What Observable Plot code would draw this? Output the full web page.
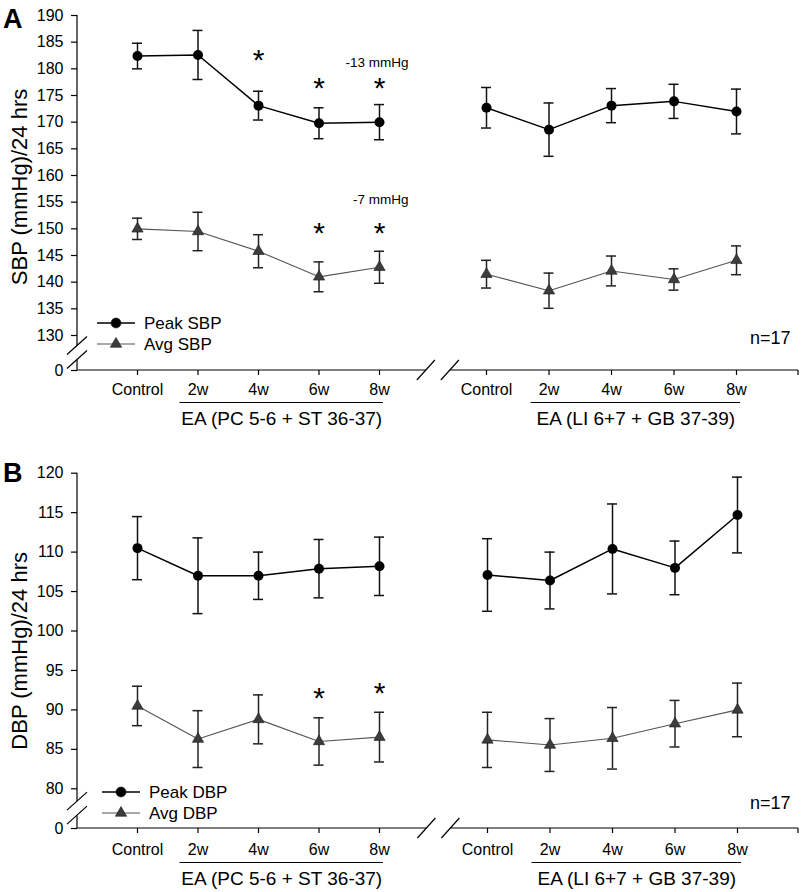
<!DOCTYPE html>
<html><head><meta charset="utf-8">
<script src="https://cdn.jsdelivr.net/npm/d3@7"></script>
<script src="https://cdn.jsdelivr.net/npm/@observablehq/plot@0.6"></script>
<style>
body{margin:0;background:#fff;}
#chart svg{display:block;}
</style></head><body><div id="chart"></div>
<script>
// ---------- data ----------
const timepoints = ["Control", "2w", "4w", "6w", "8w"];
const groups = ["EA (PC 5-6 + ST 36-37)", "EA (LI 6+7 + GB 37-39)"];

// Panel A (SBP) – first five values: PC 5-6 + ST 36-37, last five: LI 6+7 + GB 37-39
const peakSBP    = [182.4, 182.6, 173.1, 169.8, 170.0, 172.7, 168.6, 173.1, 173.9, 172.0];
const peakSBPsem = [2.4, 4.6, 2.7, 2.9, 3.3, 3.8, 5.0, 3.2, 3.2, 4.2];
const avgSBP     = [150.0, 149.5, 145.8, 141.0, 142.8, 141.5, 138.4, 142.1, 140.5, 144.1];
const avgSBPsem  = [2.0, 3.6, 3.1, 2.8, 3.0, 2.6, 3.3, 2.8, 2.0, 2.7];
const peakSBPstar = [null, null, 182.5, 177.2, 177.2, null, null, null, null, null];
const avgSBPstar  = [null, null, null, 150.1, 150.1, null, null, null, null, null];
const sbpTicks = [0, 130, 135, 140, 145, 150, 155, 160, 165, 170, 175, 180, 185, 190];
const sbpNotes = ["-13 mmHg", "-7 mmHg"];
const sbpNoteY = [181.2, 155.5];

// Panel B (DBP)
const peakDBP    = [110.5, 107.0, 107.0, 107.9, 108.2, 107.1, 106.4, 110.4, 108.0, 114.7];
const peakDBPsem = [4.0, 4.8, 3.0, 3.7, 3.7, 4.6, 3.6, 5.7, 3.4, 4.8];
const avgDBP     = [90.5, 86.3, 88.8, 86.0, 86.55, 86.2, 85.55, 86.4, 88.25, 90.0];
const avgDBPsem  = [2.5, 3.6, 3.1, 3.0, 3.15, 3.5, 3.35, 3.9, 2.95, 3.4];
const peakDBPstar = [null, null, null, null, null, null, null, null, null, null];
const avgDBPstar  = [null, null, null, 92.1, 92.7, null, null, null, null, null];
const dbpTicks = [0, 80, 85, 90, 95, 100, 105, 110, 115, 120];

const nLabel = "n=17";
const noteColumn = "8w";

// ---------- rendering ----------
const FONT = '"Liberation Sans", Arial, Helvetica, sans-serif';
const X_DOMAIN = [0, 4, 5, 9];

function rowsFrom(peak, peakSem, avg, avgSem, peakStar, avgStar) {
  return peak.map((v, k) => ({
    g: Math.floor(k / timepoints.length),
    t: k % timepoints.length,
    pos: Math.floor(k / timepoints.length) * timepoints.length + (k % timepoints.length),
    peak: v, peakSem: peakSem[k], avg: avg[k], avgSem: avgSem[k],
    peakStar: peakStar[k], avgStar: avgStar[k]
  }));
}

function panel(o) {
  const rows = rowsFrom(o.peak, o.peakSem, o.avg, o.avgSem, o.peakStar, o.avgStar);
  const xs = d3.scaleLinear().domain(X_DOMAIN).range(o.xRange);
  const ys = d3.scaleLinear().domain(o.yDomain).range(o.yRange);
  const left = 77, right = 798;
  const y0 = o.yRange[0], yTop = o.yRange[o.yRange.length - 1];
  const groupRows = groups.map((name, g) => ({name, g, a: g * 5 + 1, b: g * 5 + 4, mid: g * 5 + 2.5}));

  const decor = () => {
    const root = d3.create("svg:g").attr("text-anchor", "start").attr("font-family", FONT);
    const g = root.append("g").attr("fill", "none").attr("stroke", "#000").attr("stroke-width", 1.2);
    // y axis with break
    const yb = (ys(o.yDomain[0]) + ys(o.yDomain[1])) / 2;
    const up = yb - 7, lo = yb + 7;
    g.append("line").attr("x1", left).attr("x2", left).attr("y1", yTop).attr("y2", up);
    g.append("line").attr("x1", left).attr("x2", left).attr("y1", lo).attr("y2", y0);
    for (const c of [up, lo]) g.append("line").attr("x1", left - 10).attr("y1", c + 9).attr("x2", left + 10).attr("y2", c - 9);
    // x axis with break
    const xb = xs(4) + 0.55 * (xs(5) - xs(4));
    const l1 = xb - 12, l2 = xb + 12;
    g.append("line").attr("x1", left).attr("x2", l1).attr("y1", y0).attr("y2", y0);
    g.append("line").attr("x1", l2).attr("x2", right).attr("y1", y0).attr("y2", y0);
    g.append("line").attr("x1", right).attr("x2", right).attr("y1", y0).attr("y2", y0 + 5);
    for (const c of [l1, l2]) g.append("line").attr("x1", c - 9).attr("y1", y0 + 10).attr("x2", c + 9).attr("y2", y0 - 10);
    // legend
    const lg = root.append("g");
    const items = [
      {label: o.legend[0], stroke: "#000", sw: 1.5, sym: d3.symbolCircle, size: Math.PI * 25, fill: "#000"},
      {label: o.legend[1], stroke: "#555", sw: 1.1, sym: d3.symbolTriangle, size: 55, fill: "#3c3c3c"}
    ];
    items.forEach((it, i) => {
      const yy = o.legendY[i];
      lg.append("line").attr("x1", o.legendX).attr("x2", o.legendX + 38).attr("y1", yy).attr("y2", yy)
        .attr("stroke", it.stroke).attr("stroke-width", it.sw);
      lg.append("path").attr("d", d3.symbol(it.sym, it.size)()).attr("transform", `translate(${o.legendX + 19},${yy})`)
        .attr("fill", it.fill).attr("stroke", "#1a1a1a").attr("stroke-width", 0.6);
      lg.append("text").attr("x", o.legendX + 47).attr("y", yy).attr("dy", "0.35em").attr("text-anchor", "start")
        .attr("font-size", 17).attr("fill", "#000").attr("stroke", "none").text(it.label);
    });
    root.append("text").attr("x", 3).attr("y", o.letterY).attr("font-size", 27).attr("font-weight", "bold")
      .attr("text-anchor", "start").attr("fill", "#000").text(o.letter);
    return root.node();
  };

  const noteRows = (o.notes || []).map((text, i) => ({text, y: o.noteY[i], pos: timepoints.indexOf(noteColumn)}));

  return Plot.plot({
    width: 802,
    height: o.height,
    marginLeft: left, marginRight: 802 - right, marginTop: yTop, marginBottom: o.height - y0,
    style: {fontFamily: FONT, fontSize: "16px", color: "#000", background: "#fff"},
    x: {type: "linear", domain: X_DOMAIN, range: o.xRange, axis: null},
    y: {type: "linear", domain: o.yDomain, range: o.yRange, axis: null},
    marks: [
      Plot.axisY({ticks: o.ticks, tickSize: 6, tickPadding: 8, fontSize: 16, label: null, stroke: "#000", strokeWidth: 1.2}),
      Plot.axisX({ticks: d3.range(10), tickFormat: i => timepoints[i % 5], tickSize: 5, tickPadding: o.xPad, fontSize: 16, label: null, stroke: "#000", strokeWidth: 1.2}),
      decor,
      // group underline + name
      Plot.ruleY(groupRows, {y: () => o.yDomain[0], x1: "a", x2: "b", dy: o.ulOff, insetLeft: -18, insetRight: -4, stroke: "#000", strokeWidth: 1.2}),
      Plot.text(groupRows, {x: "mid", y: () => o.yDomain[0], dy: o.glOff, dx: -7, text: "name", fontSize: 19, lineAnchor: "middle"}),
      // y title
      Plot.text([o.yLabel], {frameAnchor: "left", rotate: -90, dx: -58, dy: o.titleDy, textAnchor: "middle", lineAnchor: "middle", fontSize: 22}),
      // n=17
      Plot.text([nLabel], {frameAnchor: "bottom-right", dx: -8, dy: o.nDy, textAnchor: "end", lineAnchor: "middle", fontSize: 18}),
      // error bars
      Plot.ruleX(rows, {x: "pos", y1: d => d.avg - d.avgSem, y2: d => d.avg + d.avgSem, stroke: "#222", strokeWidth: 1.5}),
      Plot.ruleY(rows, {x1: "pos", x2: "pos", y: d => d.avg + d.avgSem, insetLeft: -5, insetRight: -5, stroke: "#222", strokeWidth: 1.5}),
      Plot.ruleY(rows, {x1: "pos", x2: "pos", y: d => d.avg - d.avgSem, insetLeft: -5, insetRight: -5, stroke: "#222", strokeWidth: 1.5}),
      Plot.ruleX(rows, {x: "pos", y1: d => d.peak - d.peakSem, y2: d => d.peak + d.peakSem, stroke: "#111", strokeWidth: 1.5}),
      Plot.ruleY(rows, {x1: "pos", x2: "pos", y: d => d.peak + d.peakSem, insetLeft: -5, insetRight: -5, stroke: "#111", strokeWidth: 1.5}),
      Plot.ruleY(rows, {x1: "pos", x2: "pos", y: d => d.peak - d.peakSem, insetLeft: -5, insetRight: -5, stroke: "#111", strokeWidth: 1.5}),
      // lines
      Plot.line(rows, {x: "pos", y: "avg", z: "g", stroke: "#555", strokeWidth: 1.1}),
      Plot.line(rows, {x: "pos", y: "peak", z: "g", stroke: "#000", strokeWidth: 1.5}),
      // markers
      Plot.dot(rows, {x: "pos", y: "avg", symbol: "triangle", r: 4.2, fill: "#3c3c3c", stroke: "#1a1a1a", strokeWidth: 0.6}),
      Plot.dot(rows, {x: "pos", y: "peak", symbol: "circle", r: 5, fill: "#000", stroke: "none"}),
      // significance
      Plot.text(rows.filter(d => d.peakStar != null), {x: "pos", y: "peakStar", text: () => "*", fontSize: 30, dy: 5}),
      Plot.text(rows.filter(d => d.avgStar != null), {x: "pos", y: "avgStar", text: () => "*", fontSize: 30, dy: 5}),
      // notes
      Plot.text(noteRows, {x: "pos", y: "y", text: "text", textAnchor: "end", dx: 29, fontSize: 13.5})
    ]
  });
}

const chart = document.getElementById("chart");
chart.appendChild(panel({
  letter: "A", letterY: 28, yLabel: "SBP (mmHg)/24 hrs",
  peak: peakSBP, peakSem: peakSBPsem, avg: avgSBP, avgSem: avgSBPsem, peakStar: peakSBPstar, avgStar: avgSBPstar,
  ticks: sbpTicks, yDomain: [0, 130, 190], yRange: [370, 335, 15], height: 440,
  xRange: [137, 379, 486, 736], xPad: 8, ulOff: 32, glOff: 48, nDy: -32, titleDy: -6,
  legend: ["Peak SBP", "Avg SBP"], legendX: 97, legendY: [323, 344],
  notes: sbpNotes, noteY: sbpNoteY
}));
chart.appendChild(panel({
  letter: "B", letterY: 42, yLabel: "DBP (mmHg)/24 hrs",
  peak: peakDBP, peakSem: peakDBPsem, avg: avgDBP, avgSem: avgDBPsem, peakStar: peakDBPstar, avgStar: avgDBPstar,
  ticks: dbpTicks, yDomain: [0, 80, 120], yRange: [388, 348.3, 32.7], height: 452,
  xRange: [137, 379, 487, 737], xPad: 10, ulOff: 34, glOff: 50, nDy: -25, titleDy: 0,
  legend: ["Peak DBP", "Avg DBP"], legendX: 102, legendY: [352, 373]
}));
</script>
</body></html>
